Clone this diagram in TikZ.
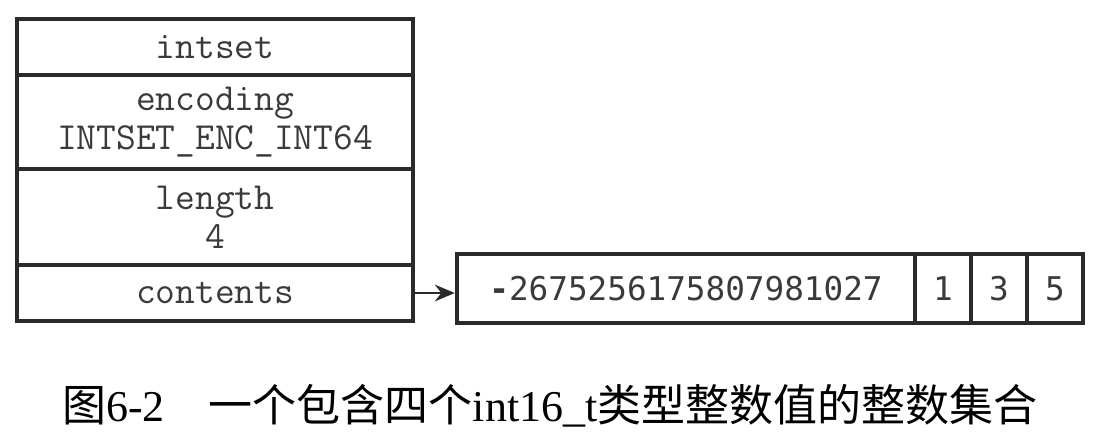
\documentclass[tikz,border=0pt]{standalone}
\usepackage{fontspec}
\setmainfont{Liberation Serif}
\newfontfamily\cjk{Noto Sans CJK SC}
\newfontfamily\digitfont{DejaVu Sans Mono}
\usetikzlibrary{positioning,arrows.meta}

\definecolor{linegray}{HTML}{2A2A2A}
\definecolor{textgray}{HTML}{3A3A3A}

\begin{document}
\begin{tikzpicture}[
    x=0.3pt, y=-0.3pt,
    field/.style={rectangle, draw=linegray, line width=1.3pt, minimum width=118.8pt, inner sep=0pt,
        align=center, text=textgray, font=\ttfamily\fontsize{11.5}{11.6}\selectfont},
    cell/.style={rectangle, draw=linegray, line width=1.3pt, minimum height=20.7pt, inner sep=0pt,
        text=textgray, font=\digitfont\fontsize{9.8}{11}\selectfont},
    >={Stealth[length=6pt, width=5pt]}
]
\useasboundingbox (0,0) rectangle (1108,442);

% intset structure
\node[field, minimum height=16.8pt] (intset) at (215,47) {intset};
\node[field, minimum height=28.2pt] (encoding) at (215,122) {encoding\\INTSET\_ENC\_INT64};
\node[field, minimum height=28.8pt] (length) at (215,217) {length\\4};
\node[field, minimum height=16.8pt] (contents) at (215,293) {contents};

% contents array
\node[cell, minimum width=137.4pt] (big) at (686,288.5) {\textbf{-}2675256175807981027};
\node[cell, minimum width=16.8pt] (one) at (943,288.5) {1};
\node[cell, minimum width=16.8pt] (three) at (999,288.5) {3};
\node[cell, minimum width=16.8pt] (five) at (1055,288.5) {5};

\draw[->, linegray, line width=0.6pt] (contents.east) -- (contents.east -| big.west);

% caption
\node[font=\fontsize{13.2}{15}\selectfont] (caption) at (550,406)
    {{\cjk 图}6-2\quad{\cjk 一个包含四个}int16\_t{\cjk 类型整数值的整数集合}};

\end{tikzpicture}
\end{document}
